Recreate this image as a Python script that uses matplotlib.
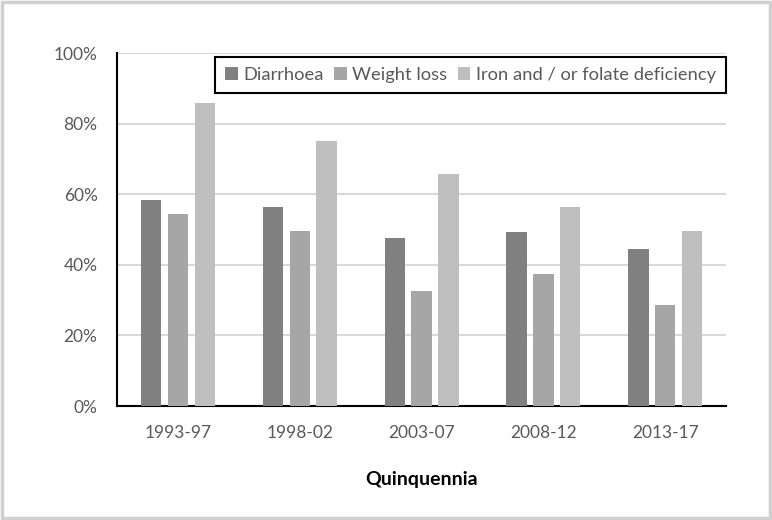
import matplotlib
matplotlib.use("Agg")
import matplotlib.pyplot as plt
import numpy as np
from matplotlib.patches import Rectangle
from matplotlib.ticker import PercentFormatter

categories = ["1993-97", "1998-02", "2003-07", "2008-12", "2013-17"]
series_names = ["Diarrhoea", "Weight loss", "Iron and / or folate deficiency"]
diarrhoea = [58.5, 56.5, 47.7, 49.2, 44.5]
weight_loss = [54.4, 49.7, 32.7, 37.4, 28.5]
iron_folate = [85.8, 75.0, 65.7, 56.5, 49.7]
colors = ["#808080", "#a6a6a6", "#bfbfbf"]

plt.rcParams['font.family'] = ['Lato', 'DejaVu Sans']

fig = plt.figure(figsize=(7.72, 5.2), dpi=100)
fig.patches.append(Rectangle((0.002, 0.003), 0.996, 0.994, transform=fig.transFigure,
                             fill=False, edgecolor="#d0d0d0", linewidth=2.5))
ax = fig.add_axes([0.1516, 0.2192, 0.7889, 0.6788])

x = np.arange(len(categories))
w = 0.168
step = 0.22
for i, (vals, name) in enumerate(zip([diarrhoea, weight_loss, iron_folate], series_names)):
    ax.bar(x + (i - 1) * step, vals, width=w, color=colors[i], label=name, zorder=3)

ax.set_xlim(-0.5, len(categories) - 0.5)
ax.set_ylim(0, 100)
ax.set_yticks(np.arange(0, 101, 20))
ax.yaxis.set_major_formatter(PercentFormatter(decimals=0))
ax.set_xticks(x)
ax.set_xticklabels(categories)
ax.grid(axis="y", color="#d9d9d9", linewidth=1.5, zorder=0)
ax.set_axisbelow(True)
for s in ["top", "right"]:
    ax.spines[s].set_visible(False)
ax.spines["left"].set_linewidth(1.5)
ax.spines["bottom"].set_linewidth(1.5)
ax.tick_params(axis="both", length=0, labelsize=12.5, labelcolor="#595959")
ax.tick_params(axis="y", pad=14)
ax.tick_params(axis="x", pad=14)

ax.set_xlabel("Quinquennia", fontsize=14, fontweight="bold", color="black", labelpad=21)

leg = ax.legend(loc="upper right", bbox_to_anchor=(1.0, 0.99), ncol=3, frameon=True,
                fancybox=False, edgecolor="black", framealpha=1, borderaxespad=0,
                fontsize=13.2, handlelength=0.7, handleheight=0.7, handletextpad=0.3,
                columnspacing=0.55, borderpad=0.55)
leg.get_frame().set_linewidth(1.5)
for t in leg.get_texts():
    t.set_color("#595959")

fig.savefig("out.png", dpi=100)
